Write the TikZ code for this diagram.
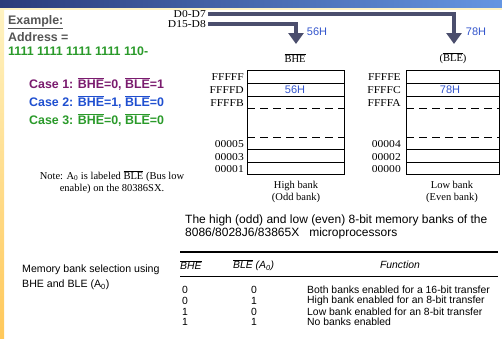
\documentclass[tikz,border=0pt]{standalone}
\usepackage{fontspec}
\setmainfont{Liberation Serif}
\setsansfont{Liberation Sans}
\usetikzlibrary{arrows.meta, positioning, calc}

\definecolor{barnavy}{HTML}{2B3C7A}
\definecolor{barblue}{HTML}{6596E2}
\definecolor{stripsun}{HTML}{FFF3C2}
\definecolor{striporange}{HTML}{FFC85A}
\definecolor{busgray}{HTML}{4B4E6D}
\definecolor{casepurple}{HTML}{7A1B6E}
\definecolor{caseblue}{HTML}{1F4FD0}
\definecolor{casegreen}{HTML}{2A9A2A}
\definecolor{headgray}{HTML}{555555}
\definecolor{valblue}{HTML}{3355CC}

\newcommand{\ovl}[1]{$\overline{\mbox{#1}}$}

\begin{document}
\begin{tikzpicture}[
  x=1pt, y=-1pt, inner sep=0pt,
  slide/.style={anchor=west, font=\sffamily\bfseries\fontsize{12.4}{14}\selectfont},
  book/.style={font=\rmfamily\fontsize{10.5}{12}\selectfont},
  addr/.style={anchor=east, font=\rmfamily\fontsize{10.5}{12}\selectfont, xscale=1.1},
  captxt/.style={anchor=west, font=\sffamily\fontsize{12}{14}\selectfont},
  tab/.style={anchor=west, font=\sffamily\fontsize{10.4}{12}\selectfont},
  thead/.style={tab, font=\sffamily\itshape\fontsize{10.4}{12}\selectfont},
  val/.style={font=\sffamily\fontsize{11}{13}\selectfont, text=valblue},
  bus/.style={line width=4pt, busgray, shorten <=2pt, -{Triangle[width=15pt, length=11pt]}},
  row/.style={line width=1pt},
  gap/.style={line width=0.9pt, dash pattern=on 8pt off 5pt}]
\useasboundingbox (0,0) rectangle (502,338);

% slide frame
\shade[left color=barnavy, right color=barblue] (0,0) rectangle (502,8);
\fill[stripsun] (0,8) rectangle (502,9.5);
\shade[top color=stripsun, bottom color=striporange] (0,9.5) rectangle (4,338);

% example address and the three cases
\node[slide, text=headgray] (ex) at (8,22) {\underline{Example:}};
\node[slide, text=headgray] (adr) at (8,37) {Address =};
\node[slide, text=casegreen] (bits) at (8,51) {1111 1111 1111 1111 110-};
\node[slide, text=casepurple] (c1) at (29,84) {Case 1: \ovl{BHE}=0, \ovl{BLE}=1};
\node[slide, text=caseblue] (c2) at (29,102) {Case 2: \ovl{BHE}=1, \ovl{BLE}=0};
\node[slide, text=casegreen] (c3) at (29,120) {Case 3: \ovl{BHE}=0, \ovl{BLE}=0};

% data bus
\node[addr] (lo) at (206,14) {D0-D7};
\node[addr] (hi) at (206,24) {D15-D8};
\coordinate (hitip) at (296,44);
\coordinate (lotip) at (454,44);
\draw[bus] (hi.east) -| (hitip);
\draw[bus] (lo.east) -| (lotip);
\node[val] (v56) at (317,32) {56H};
\node[val] (v78) at (476,32) {78H};

% odd bank
\node[book] (bhe) at (295,58) {\ovl{BHE}};
\draw[row] (247,70) rectangle (344,174);
\draw[row] (247,83) -- (344,83);
\draw[row] (247,96) -- (344,96);
\draw[gap] (247,108) -- (344,108);
\draw[gap] (247,137) -- (344,137);
\draw[row] (247,149) -- (344,149);
\draw[row] (247,162) -- (344,162);
\node[val] (m56) at (295,90) {56H};
\node[addr] at (244,77) {FFFFF};
\node[addr] at (244,90) {FFFFD};
\node[addr] at (244,103) {FFFFB};
\node[addr] at (244,144) {00005};
\node[addr] at (244,157) {00003};
\node[addr] at (244,169) {00001};
\node[book, align=center] (odd) at (296,192) {High bank\\(Odd bank)};

% even bank
\node[book] (ble) at (453,58) {(\ovl{BLE})};
\draw[row] (406,70) rectangle (499,174);
\draw[row] (406,83) -- (499,83);
\draw[row] (406,96) -- (499,96);
\draw[gap] (406,108) -- (499,108);
\draw[gap] (406,137) -- (499,137);
\draw[row] (406,149) -- (499,149);
\draw[row] (406,162) -- (499,162);
\node[val] (m78) at (450,90) {78H};
\node[addr] at (401,77) {FFFFE};
\node[addr] at (401,90) {FFFFC};
\node[addr] at (401,103) {FFFFA};
\node[addr] at (401,144) {00004};
\node[addr] at (401,157) {00002};
\node[addr] at (401,169) {00000};
\node[book, align=center] (even) at (452,192) {Low bank\\(Even bank)};

% notes and captions
\node[book, align=center] (note) at (112,182) {Note: A\textsubscript{0} is labeled \ovl{BLE} (Bus low\\enable) on the 80386SX.};
\node[captxt] (cap1) at (185,220) {The high (odd) and low (even) 8-bit memory banks of the};
\node[captxt] (cap2) at (185,233) {8086/8028J6/83865X\ \ \ microprocessors};
\node[tab, font=\sffamily\fontsize{10.6}{12}\selectfont] (sel1) at (22,270) {Memory bank selection using};
\node[tab, font=\sffamily\fontsize{10.6}{12}\selectfont] (sel2) at (22,285) {BHE and BLE (A\textsubscript{0})};

% selection table
\draw[line width=2pt] (180,252) -- (498,252);
\node[thead] (hbhe) at (180,265) {\ovl{BHE}};
\node[thead] (hble) at (233,265) {\ovl{BLE} (A\textsubscript{0})};
\node[thead, anchor=center] (hfun) at (400,265) {Function};
\draw[line width=0.6pt] (180,276) -- (498,276);
\node[tab] at (182,290) {0};
\node[tab] at (251,290) {0};
\node[tab] at (307,290) {Both banks enabled for a 16-bit transfer};
\node[tab] at (182,301) {0};
\node[tab] at (251,301) {1};
\node[tab] at (307,301) {High bank enabled for an 8-bit transfer};
\node[tab] at (182,312) {1};
\node[tab] at (251,312) {0};
\node[tab] at (307,312) {Low bank enabled for an 8-bit transfer};
\node[tab] at (182,322) {1};
\node[tab] at (251,322) {1};
\node[tab] at (307,322) {No banks enabled};
\end{tikzpicture}
\end{document}
